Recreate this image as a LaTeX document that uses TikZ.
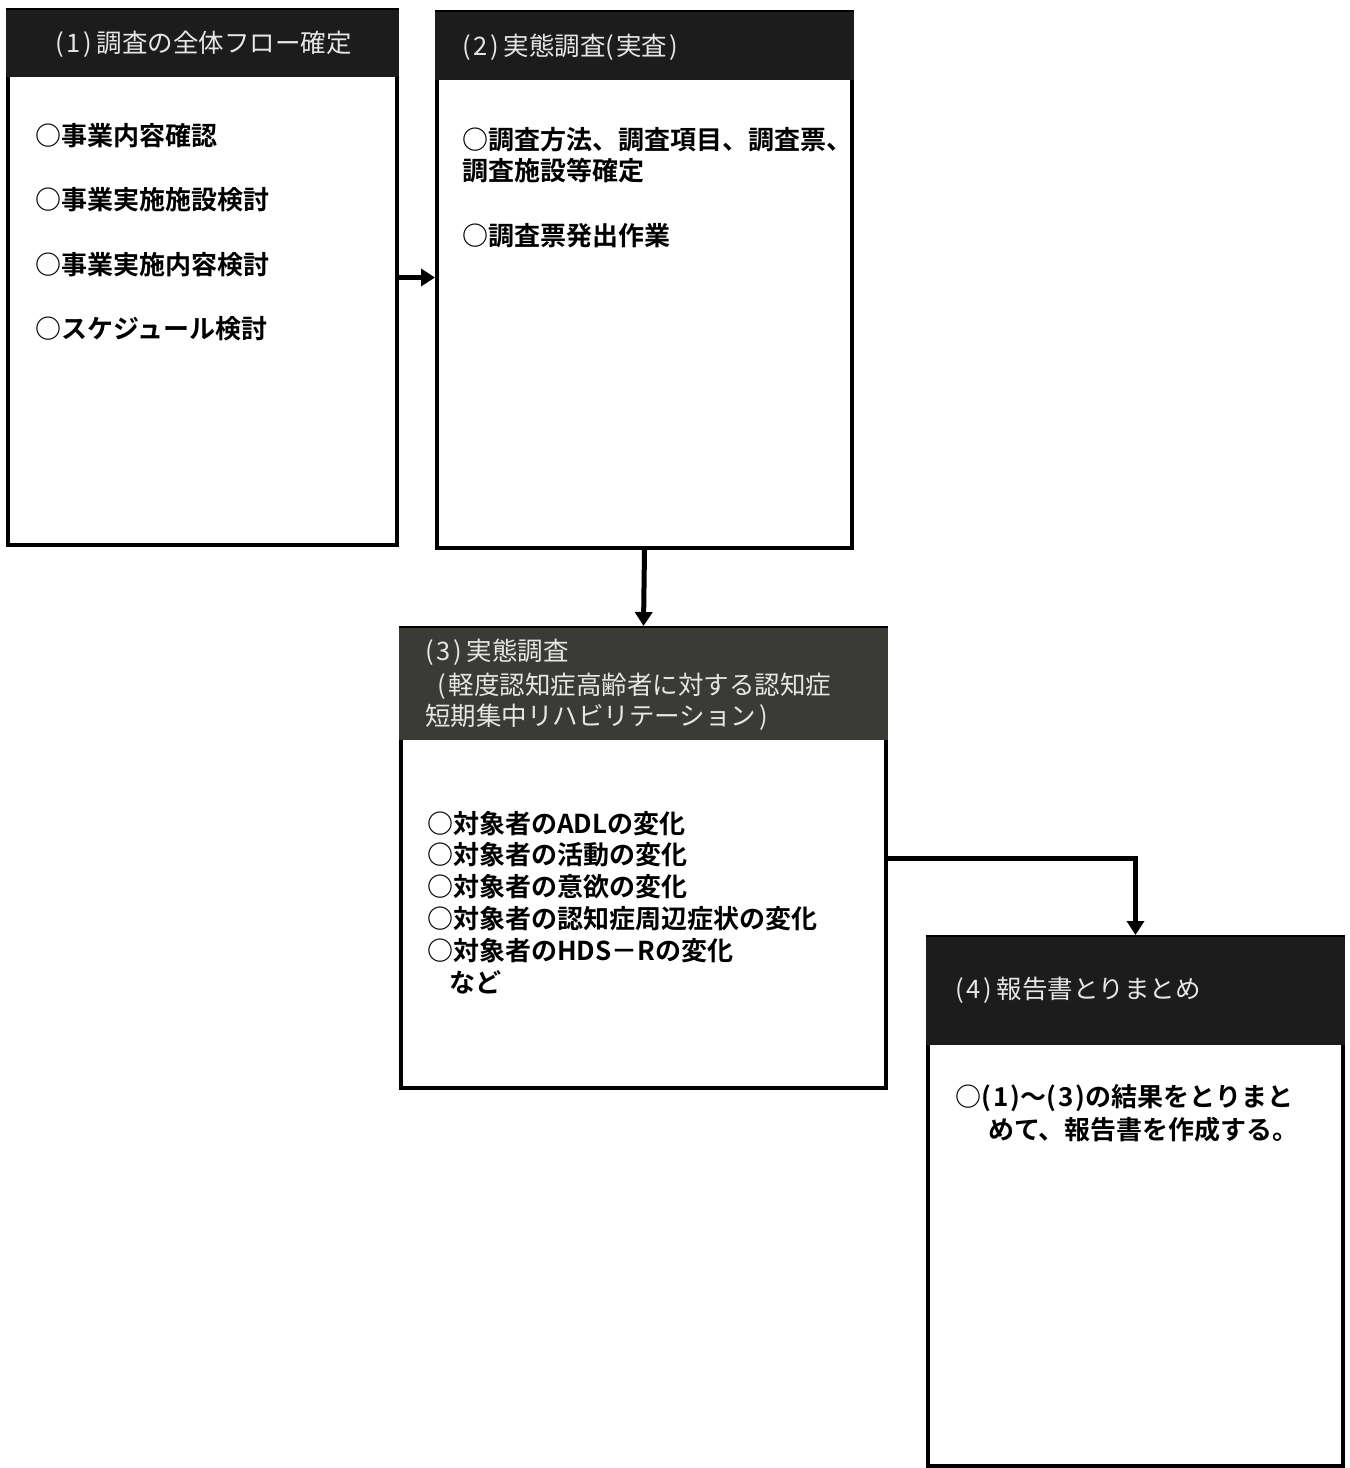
\documentclass[tikz,border=0pt]{standalone}
\usepackage{fontspec}
\newfontfamily\jp{Noto Sans CJK JP}[BoldFont={* Bold}]
\usetikzlibrary{arrows.meta}
\definecolor{hdr}{HTML}{1C1C1C}
\definecolor{hdrb}{HTML}{3A3A36}
\definecolor{htxt}{HTML}{E6E6E6}
\newcommand{\pn}[1]{(\kern3pt#1\kern3pt)\kern4pt}
\tikzset{
  box/.style={draw=black, line width=4pt, fill=white, inner sep=0pt},
  hbox/.style={fill=#1, inner sep=0pt, anchor=north},
  htext/.style={anchor=west, inner sep=0pt, text=htxt, font=\jp\fontsize{25.5}{30}\selectfont},
  btext/.style={anchor=west, inner sep=0pt, text=black, font=\jp\bfseries\fontsize{26}{31}\selectfont},
  conn/.style={line width=5pt, -{Triangle[length=14pt,width=17pt]}}
}
\begin{document}
\begin{tikzpicture}[x=1pt,y=-1pt]
\useasboundingbox (0,0) rectangle (1350,1468);
% boxes
\node[box, minimum width=389pt, minimum height=535pt] (b1) at (202.5,277.5) {};
\node[box, minimum width=415pt, minimum height=536pt] (b2) at (644.5,280) {};
\node[box, minimum width=485pt, minimum height=460pt] (b3) at (643.5,858) {};
\node[box, minimum width=415pt, minimum height=529pt] (b4) at (1135.5,1201.5) {};
% headers
\node[hbox=hdr, minimum width=393pt, minimum height=67pt] (h1) at ([yshift=-2pt]b1.north) {};
\node[hbox=hdr, minimum width=419pt, minimum height=68pt] (h2) at ([yshift=-2pt]b2.north) {};
\node[hbox=hdrb, minimum width=489pt, minimum height=112pt] (h3) at ([yshift=-2pt]b3.north) {};
\node[hbox=hdr, minimum width=419pt, minimum height=108pt] (h4) at ([yshift=-2pt]b4.north) {};
% header texts
\node[htext] (t1) at (55,44) {\pn{1}調査の全体フロー確定};
\node[htext] (t2) at (462,47) {\pn{2}実態調査(\kern2pt実査\kern2pt)};
\node[htext] (t3a) at (425,652) {\pn{3}実態調査};
\node[htext] (t3b) at (437,686) {(\kern3pt軽度認知症高齢者に対する認知症};
\node[htext] (t3c) at (425,717) {短期集中リハビリテーション\kern3pt)};
\node[htext] (t4) at (955,990) {\pn{4}報告書とりまとめ};
% body texts box 1
\node[btext] (a1) at (35,136) {○事業内容確認};
\node[btext] (a2) at (35,200) {○事業実施施設検討};
\node[btext] (a3) at (35,265) {○事業実施内容検討};
\node[btext] (a4) at (35,329) {○スケジュール検討};
% box 2
\node[btext] (c1) at (462,140) {○調査方法、調査項目、調査票、};
\node[btext] (c2) at (462,171) {調査施設等確定};
\node[btext] (c3) at (462,236) {○調査票発出作業};
% box 3
\node[btext] (d1) at (427,824) {○対象者のADLの変化};
\node[btext] (d2) at (427,855) {○対象者の活動の変化};
\node[btext] (d3) at (427,887) {○対象者の意欲の変化};
\node[btext] (d4) at (427,919) {○対象者の認知症周辺症状の変化};
\node[btext] (d5) at (427,951) {○対象者のHDS－Rの変化};
\node[btext] (d6) at (449,982) {など};
% box 4
\node[btext] (e1) at (955,1098) {○(\kern2pt1\kern2pt)～(\kern2pt3\kern2pt)の結果をとりまと};
\node[btext] (e2) at (988,1130) {めて、報告書を作成する。};
% connectors
\draw[conn] (b1.east) -- (b1.east -| b2.west);
\draw[conn] (b2.south) -- (b3.north);
\draw[conn] (b3.east) -| (b4.north);
\end{tikzpicture}
\end{document}
